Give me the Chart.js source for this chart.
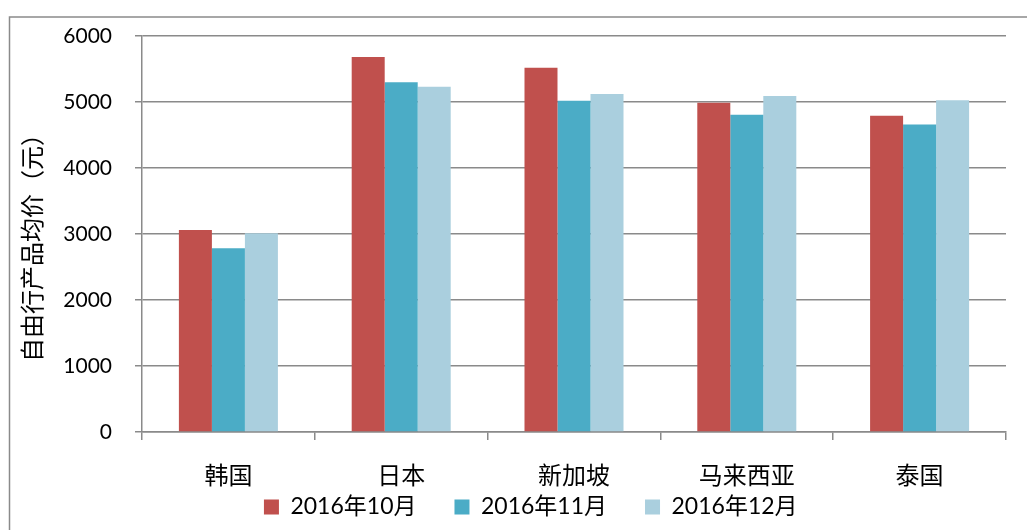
<!DOCTYPE html>
<html>
<head>
<meta charset="utf-8">
<script src="https://cdn.jsdelivr.net/npm/chart.js@4/dist/chart.umd.min.js"></script>
<style>
  html, body { margin: 0; padding: 0; background: #fff; overflow: hidden; }
  #wrap { position: relative; width: 1027px; height: 530px; }
</style>
</head>
<body>
<div id="wrap"><canvas id="c"></canvas></div>
<script>
const categories = ['韩国', '日本', '新加坡', '马来西亚', '泰国'];
const seriesNames = ['2016年10月', '2016年11月', '2016年12月'];
const oct2016 = [3060, 5680, 5520, 4990, 4790];
const nov2016 = [2785, 5300, 5020, 4805, 4660];
const dec2016 = [3010, 5230, 5120, 5090, 5025];
const yTicks = [0, 1000, 2000, 3000, 4000, 5000, 6000];
const yTitle = '自由行产品均价（元）';

const colors = ['#C0504D', '#4BACC6', '#AACFDE'];
const gridColor = '#8a8a8a';
const numFont = 'Lato, "Noto Sans CJK SC", sans-serif';
const cjkFont = '"Noto Sans CJK SC", sans-serif';
const LEFT_PAD = 55.5;

const frame = {
  id: 'frame',
  afterLayout(chart) {
    // let x-axis labels extend below the compact axis box (no clipping)
    const xs = chart.scales.x;
    xs.bottom = 510;
    xs.height = xs.bottom - xs.top;
  },
  beforeDraw(chart) {
    const ctx = chart.ctx;
    ctx.save();
    ctx.strokeStyle = gridColor;
    ctx.lineWidth = 1.5;
    ctx.strokeRect(9.5, 17, 1200, 700);
    ctx.restore();
  },
  afterDraw(chart) {
    const ctx = chart.ctx;
    ctx.save();
    ctx.translate(32, 242);
    ctx.rotate(-Math.PI / 2);
    ctx.textAlign = 'center';
    ctx.textBaseline = 'middle';
    ctx.fillStyle = '#000';
    ctx.font = '24px ' + cjkFont;
    ctx.fillText(yTitle, 0, 0);
    ctx.restore();
  }
};

new Chart(document.getElementById('c'), {
  type: 'bar',
  data: {
    labels: categories,
    datasets: [
      { label: seriesNames[0], data: oct2016, backgroundColor: colors[0] },
      { label: seriesNames[1], data: nov2016, backgroundColor: colors[1] },
      { label: seriesNames[2], data: dec2016, backgroundColor: colors[2] }
    ]
  },
  options: {
    responsive: true,
    maintainAspectRatio: false,
    animation: false,
    devicePixelRatio: 1,
    categoryPercentage: 0.573,
    barPercentage: 1.0,
    layout: { padding: { left: LEFT_PAD, right: 21, top: 36, bottom: 1.5 } },
    plugins: {
      tooltip: { enabled: false },
      legend: {
        position: 'bottom',
        labels: {
          boxWidth: 15,
          boxHeight: 15,
          padding: 38,
          color: '#000',
          font: { family: numFont, size: 23 }
        }
      }
    },
    scales: {
      x: {
        afterFit(scale) { scale.height = 25.5; },
        grid: { display: true, drawOnChartArea: false, drawTicks: true, tickLength: 8, color: gridColor, lineWidth: 1.5 },
        border: { display: true, color: gridColor, width: 1.5 },
        ticks: { color: '#000', padding: 20, font: { family: cjkFont, size: 24 }, maxRotation: 0, autoSkip: false }
      },
      y: {
        min: 0,
        max: 6000,
        afterFit(scale) { scale.width = 142 - LEFT_PAD; },
        afterBuildTicks(scale) { scale.ticks = yTicks.map(v => ({ value: v })); },
        grid: { color: gridColor, lineWidth: 1.5, drawTicks: true, tickLength: 7 },
        border: { display: true, color: gridColor, width: 1.5 },
        ticks: { color: '#000', padding: 23, font: { family: numFont, size: 21 }, callback: (v) => String(v) }
      }
    }
  },
  plugins: [frame]
});
</script>
</body>
</html>
